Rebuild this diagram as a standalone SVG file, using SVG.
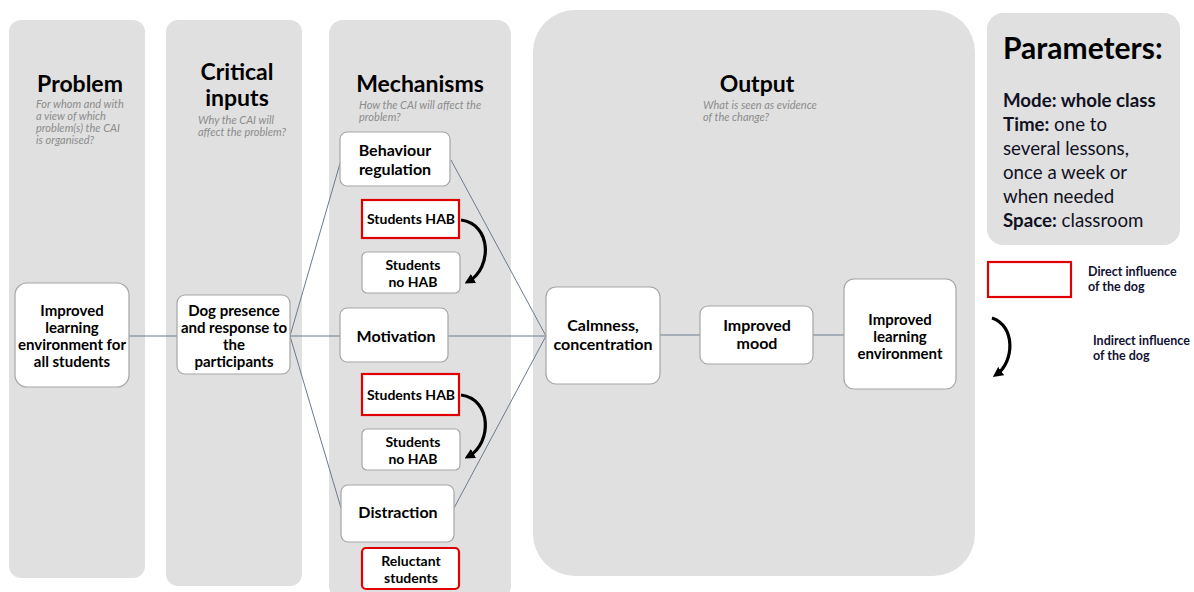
<svg xmlns="http://www.w3.org/2000/svg" width="1194" height="592" viewBox="0 0 1194 592">
  <style>
    .col { fill: #e0e0e0; }
    .node { fill: #ffffff; stroke: #a6a6a6; stroke-width: 1.2; }
    .red { fill: #ffffff; stroke: #e00000; stroke-width: 2.2; }
    .title { font-family: Lato, "Liberation Sans", sans-serif; font-weight: bold; font-size: 23px; fill: #000; text-anchor: middle; }
    .sub { font-family: Lato, "Liberation Sans", sans-serif; font-style: italic; font-size: 11px; fill: #8c8c8c; }
    .lbl { font-family: Lato, "Liberation Sans", sans-serif; font-weight: bold; font-size: 16px; fill: #000; text-anchor: middle; }
    .lbl2 { font-family: Lato, "Liberation Sans", sans-serif; font-weight: bold; font-size: 15px; fill: #000; text-anchor: middle; }
    .sm { font-family: Lato, "Liberation Sans", sans-serif; font-weight: bold; font-size: 14px; fill: #000; text-anchor: middle; }
    .par { font-family: Lato, "Liberation Sans", sans-serif; font-size: 18.7px; fill: #111122; }
    .leg { font-family: Lato, "Liberation Sans", sans-serif; font-weight: bold; font-size: 12.5px; fill: #111133; }
    .conn { stroke: #6b7a8f; stroke-width: 1; fill: none; }
    .curve { stroke: #000; stroke-width: 3.2; fill: none; marker-end: url(#head); }
  </style>
  <defs>
    <marker id="head" viewBox="0 0 10 10" refX="5" refY="5" markerWidth="3.2" markerHeight="3.2" orient="auto">
      <path d="M0,0 L10,5 L0,10 Z" fill="#000"/>
    </marker>
  </defs>
  <rect width="1194" height="592" fill="#ffffff"/>

  <!-- column backgrounds -->
  <g id="columns">
    <rect class="col" x="9" y="20" width="136" height="558" rx="12"/>
    <rect class="col" x="166" y="20" width="136" height="566" rx="12"/>
    <rect class="col" x="329" y="20" width="182" height="580" rx="14"/>
    <rect class="col" x="533" y="10" width="442" height="566" rx="42"/>
    <rect class="col" x="987" y="13" width="193" height="232" rx="16"/>
  </g>

  <!-- column headings -->
  <g id="headings">
    <text class="title" x="80" y="92">Problem</text>
    <text class="sub" x="36" y="108">For whom and with</text>
    <text class="sub" x="36" y="120">a view of which</text>
    <text class="sub" x="36" y="132">problem(s) the CAI</text>
    <text class="sub" x="36" y="144">is organised?</text>

    <text class="title" x="237" y="80">Critical</text>
    <text class="title" x="237" y="106">inputs</text>
    <text class="sub" x="198" y="124">Why the CAI will</text>
    <text class="sub" x="198" y="136">affect the problem?</text>

    <text class="title" x="420" y="92">Mechanisms</text>
    <text class="sub" x="359" y="109">How the CAI will affect the</text>
    <text class="sub" x="359" y="121">problem?</text>

    <text class="title" x="757" y="92" font-size="24.5">Output</text>
    <text class="sub" x="703" y="109">What is seen as evidence</text>
    <text class="sub" x="703" y="121">of the change?</text>
  </g>

  <!-- connectors -->
  <g id="connectors">
    <line class="conn" x1="129" y1="336" x2="177" y2="336"/>
    <line class="conn" x1="290" y1="336" x2="341" y2="160"/>
    <line class="conn" x1="290" y1="336" x2="340" y2="336"/>
    <line class="conn" x1="290" y1="336" x2="341" y2="508"/>
    <line class="conn" x1="451" y1="160" x2="546" y2="336"/>
    <line class="conn" x1="448" y1="336" x2="546" y2="336"/>
    <line class="conn" x1="454" y1="508" x2="546" y2="336"/>
    <line class="conn" x1="660" y1="335" x2="700" y2="335"/>
    <line class="conn" x1="813" y1="335" x2="844" y2="335"/>
    <path class="curve" d="M461,220 C492,224 492,268 469,281"/>
    <path class="curve" d="M461,395 C492,399 492,443 469,456"/>
  </g>

  <g id="problem">
    <rect class="node" x="15" y="283" width="114" height="104" rx="12"/>
    <text class="lbl2" x="72" y="316">Improved</text>
    <text class="lbl2" x="72" y="333">learning</text>
    <text class="lbl2" x="72" y="350">environment for</text>
    <text class="lbl2" x="72" y="367">all students</text>
  </g>

  <g id="dog-presence">
    <rect class="node" x="177" y="295" width="113" height="79" rx="8"/>
    <text class="lbl2" x="234" y="316" font-size="14.6">Dog presence</text>
    <text class="lbl2" x="234" y="333" font-size="14.6">and response to</text>
    <text class="lbl2" x="234" y="350" font-size="14.6">the</text>
    <text class="lbl2" x="234" y="367" font-size="14.6">participants</text>
  </g>

  <g id="behaviour">
    <rect class="node" x="340" y="132" width="110" height="54" rx="7"/>
    <text class="lbl" x="395" y="156">Behaviour</text>
    <text class="lbl" x="395" y="175">regulation</text>
  </g>
  <g id="hab-1">
    <rect class="red" x="362" y="200" width="97" height="38"/>
    <text class="sm" x="411" y="224">Students HAB</text>
  </g>
  <g id="nohab-1">
    <rect class="node" x="362" y="252" width="98" height="41" rx="5"/>
    <text class="sm" x="413" y="270">Students</text>
    <text class="sm" x="413" y="287">no HAB</text>
  </g>

  <g id="motivation">
    <rect class="node" x="340" y="308" width="108" height="54" rx="7"/>
    <text class="lbl" x="396" y="342">Motivation</text>
  </g>
  <g id="hab-2">
    <rect class="red" x="362" y="374" width="97" height="41"/>
    <text class="sm" x="411" y="400">Students HAB</text>
  </g>
  <g id="nohab-2">
    <rect class="node" x="362" y="429" width="98" height="41" rx="5"/>
    <text class="sm" x="413" y="447">Students</text>
    <text class="sm" x="413" y="464">no HAB</text>
  </g>

  <g id="distraction">
    <rect class="node" x="341" y="485" width="113" height="57" rx="7"/>
    <text class="lbl" x="398" y="518">Distraction</text>
  </g>
  <g id="reluctant">
    <rect class="red" x="362" y="548" width="97" height="41" rx="4"/>
    <text class="sm" x="411" y="566">Reluctant</text>
    <text class="sm" x="411" y="583">students</text>
  </g>

  <g id="calmness">
    <rect class="node" x="546" y="287" width="114" height="97" rx="10"/>
    <text class="lbl" x="603" y="331">Calmness,</text>
    <text class="lbl" x="603" y="350">concentration</text>
  </g>
  <g id="mood">
    <rect class="node" x="700" y="306" width="113" height="58" rx="8"/>
    <text class="lbl" x="757" y="331">Improved</text>
    <text class="lbl" x="757" y="349">mood</text>
  </g>
  <g id="outcome">
    <rect class="node" x="844" y="279" width="112" height="110" rx="10"/>
    <text class="lbl2" x="900" y="325">Improved</text>
    <text class="lbl2" x="900" y="342">learning</text>
    <text class="lbl2" x="900" y="359">environment</text>
  </g>

  <g id="parameters">
    <text x="1003" y="59" font-family="Lato, 'Liberation Sans', sans-serif" font-weight="bold" font-size="30" fill="#000">Parameters:</text>
    <text class="par" x="1003" y="107" font-weight="bold">Mode: whole class</text>
    <text class="par" x="1003" y="131"><tspan font-weight="bold">Time:</tspan>  one to</text>
    <text class="par" x="1003" y="155">several lessons,</text>
    <text class="par" x="1003" y="179">once a week or</text>
    <text class="par" x="1003" y="203">when needed</text>
    <text class="par" x="1003" y="227"><tspan font-weight="bold">Space:</tspan> classroom</text>
  </g>

  <g id="legend">
    <rect class="red" x="988" y="262" width="83" height="35"/>
    <text class="leg" x="1088" y="276">Direct influence</text>
    <text class="leg" x="1088" y="291">of the dog</text>
    <path class="curve" d="M992,318 C1016,326 1014,362 997,374"/>
    <text class="leg" x="1093" y="345">Indirect influence</text>
    <text class="leg" x="1093" y="360">of the dog</text>
  </g>
</svg>
